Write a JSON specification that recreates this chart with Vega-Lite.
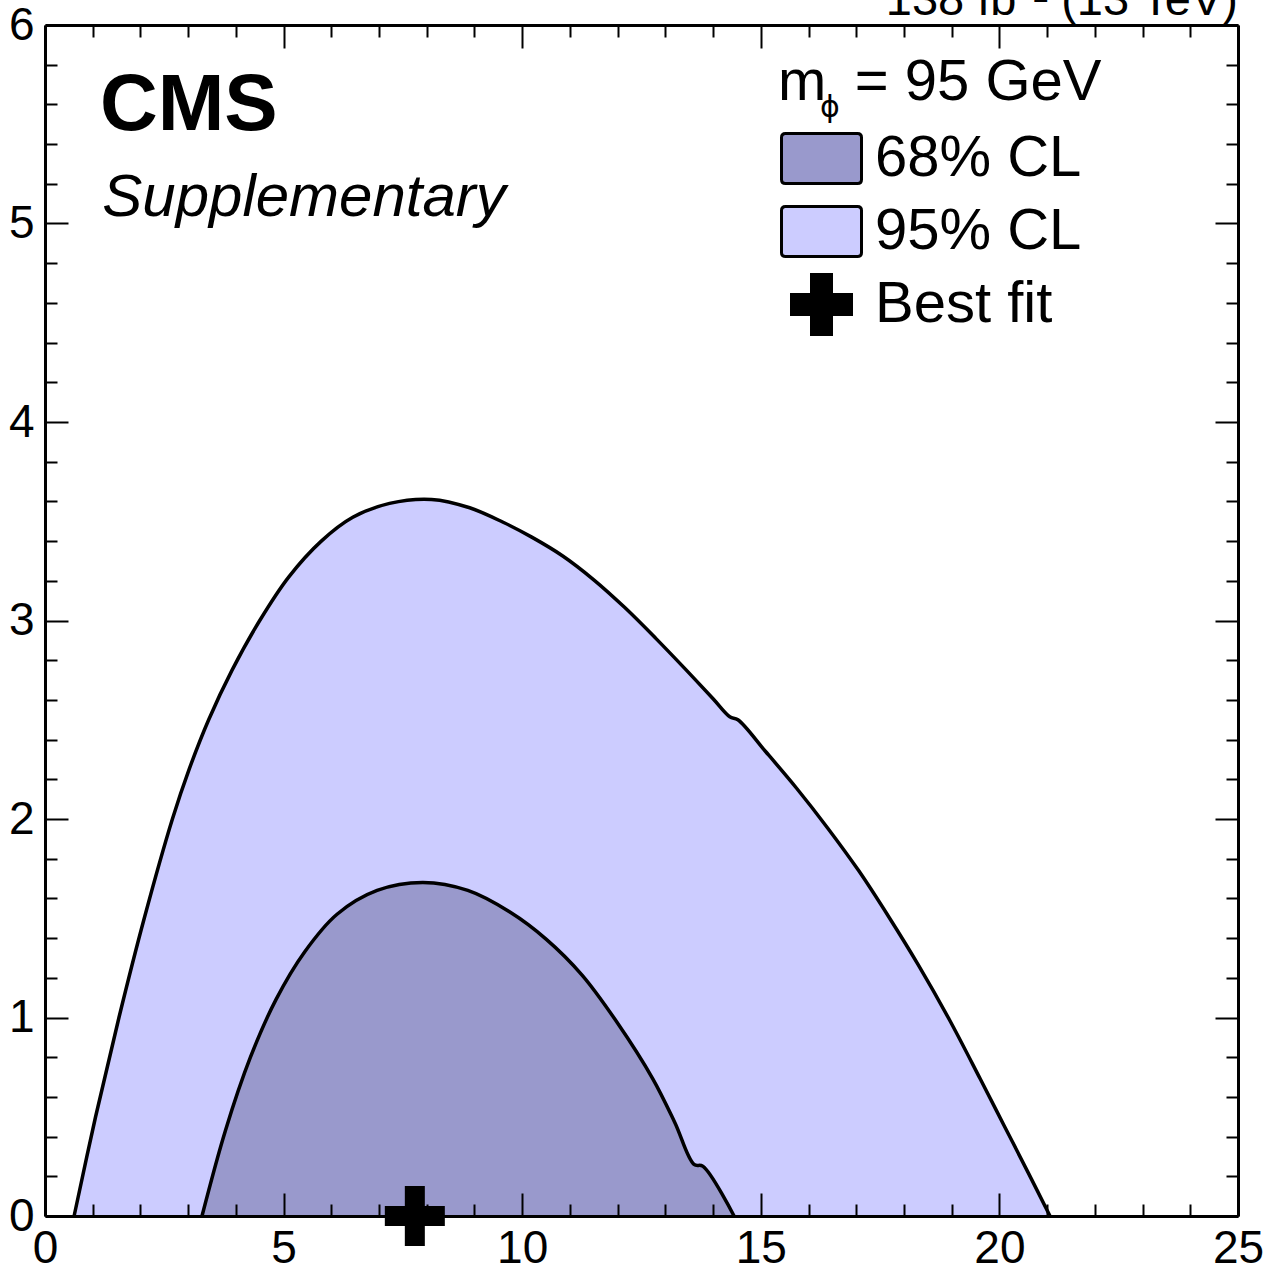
{
  "$schema": "https://vega.github.io/schema/vega-lite/v6.json",
  "autosize": {"type": "none"},
  "width": 1193,
  "height": 1191,
  "padding": {"left": 45, "top": 25, "right": 29, "bottom": 51},
  "background": "white",
  "config": {"view": {"stroke": null}, "font": "Liberation Sans"},
  "datasets": {
    "c95": [
      {"band": "95% CL", "x": 0.61, "y": 0},
      {"band": "95% CL", "x": 1.06, "y": 0.5},
      {"band": "95% CL", "x": 1.55, "y": 1.0},
      {"band": "95% CL", "x": 2.08, "y": 1.5},
      {"band": "95% CL", "x": 2.67, "y": 2.0},
      {"band": "95% CL", "x": 3.02, "y": 2.25},
      {"band": "95% CL", "x": 3.43, "y": 2.5},
      {"band": "95% CL", "x": 3.92, "y": 2.75},
      {"band": "95% CL", "x": 4.50, "y": 3.0},
      {"band": "95% CL", "x": 5.11, "y": 3.22},
      {"band": "95% CL", "x": 5.79, "y": 3.40},
      {"band": "95% CL", "x": 6.45, "y": 3.52},
      {"band": "95% CL", "x": 7.22, "y": 3.59},
      {"band": "95% CL", "x": 8.10, "y": 3.61},
      {"band": "95% CL", "x": 8.90, "y": 3.568},
      {"band": "95% CL", "x": 9.60, "y": 3.495},
      {"band": "95% CL", "x": 10.20, "y": 3.42},
      {"band": "95% CL", "x": 10.85, "y": 3.325},
      {"band": "95% CL", "x": 11.50, "y": 3.205},
      {"band": "95% CL", "x": 12.15, "y": 3.065},
      {"band": "95% CL", "x": 12.80, "y": 2.91},
      {"band": "95% CL", "x": 13.40, "y": 2.76},
      {"band": "95% CL", "x": 14.00, "y": 2.606},
      {"band": "95% CL", "x": 14.35, "y": 2.515},
      {"band": "95% CL", "x": 14.52, "y": 2.50},
      {"band": "95% CL", "x": 15.10, "y": 2.34},
      {"band": "95% CL", "x": 15.75, "y": 2.155},
      {"band": "95% CL", "x": 16.40, "y": 1.955},
      {"band": "95% CL", "x": 17.05, "y": 1.74},
      {"band": "95% CL", "x": 17.70, "y": 1.50},
      {"band": "95% CL", "x": 18.30, "y": 1.265},
      {"band": "95% CL", "x": 18.95, "y": 0.99},
      {"band": "95% CL", "x": 19.60, "y": 0.69},
      {"band": "95% CL", "x": 20.10, "y": 0.455},
      {"band": "95% CL", "x": 20.60, "y": 0.22},
      {"band": "95% CL", "x": 21.06, "y": 0}
    ],
    "c68": [
      {"band": "68% CL", "x": 3.29, "y": 0},
      {"band": "68% CL", "x": 3.78, "y": 0.43},
      {"band": "68% CL", "x": 4.305, "y": 0.80},
      {"band": "68% CL", "x": 4.84, "y": 1.09},
      {"band": "68% CL", "x": 5.44, "y": 1.33},
      {"band": "68% CL", "x": 6.12, "y": 1.52},
      {"band": "68% CL", "x": 6.96, "y": 1.64},
      {"band": "68% CL", "x": 7.92, "y": 1.68},
      {"band": "68% CL", "x": 8.86, "y": 1.64},
      {"band": "68% CL", "x": 9.75, "y": 1.53},
      {"band": "68% CL", "x": 10.50, "y": 1.395},
      {"band": "68% CL", "x": 11.25, "y": 1.215},
      {"band": "68% CL", "x": 11.99, "y": 0.975},
      {"band": "68% CL", "x": 12.74, "y": 0.69},
      {"band": "68% CL", "x": 13.20, "y": 0.47},
      {"band": "68% CL", "x": 13.60, "y": 0.26},
      {"band": "68% CL", "x": 13.79, "y": 0.25},
      {"band": "68% CL", "x": 14.44, "y": 0}
    ],
    "bf": [
      {"band": "Best fit", "x": 7.75, "y": 0}
    ]
  },
  "resolve": {"axis": {"x": "independent", "y": "independent"}},
  "layer": [
    {
      "data": {"name": "c95"},
      "mark": {"type": "area", "interpolate": "catmull-rom", "opacity": 1, "strokeWidth": 0},
      "encoding": {
        "x": {"field": "x", "type": "quantitative", "scale": {"domain": [0, 25], "nice": false, "zero": false},
          "axis": {"orient": "bottom", "values": [0, 5, 10, 15, 20, 25], "ticks": false, "tickSize": 0, "labels": true, "labelFont": "Liberation Sans", "labelFontSize": 46, "labelColor": "black", "labelPadding": 10, "labelFlush": false, "labelOverlap": false, "labelBound": false, "domain": true, "domainColor": "black", "domainWidth": 3, "title": null, "grid": false, "zindex": 1}},
        "y": {"field": "y", "type": "quantitative", "stack": null, "scale": {"domain": [0, 6], "nice": false, "zero": false},
          "axis": {"orient": "left", "values": [0, 1, 2, 3, 4, 5, 6], "ticks": false, "tickSize": 0, "labels": true, "labelFont": "Liberation Sans", "labelFontSize": 46, "labelColor": "black", "labelPadding": 11, "labelFlush": false, "labelOverlap": false, "labelBound": false, "domain": true, "domainColor": "black", "domainWidth": 3, "title": null, "grid": false, "zindex": 1}},
        "color": {"field": "band", "type": "nominal",
          "scale": {"domain": ["68% CL", "95% CL", "Best fit"], "range": ["#9999cc", "#ccccff", "#000000"]},
          "legend": {"title": null, "orient": "none", "legendX": 735, "legendY": 92, "padding": 0, "symbolSize": 6400, "symbolStrokeColor": "black", "symbolStrokeWidth": 3, "symbolOpacity": 1, "labelFont": "Liberation Sans", "labelFontSize": 58, "labelColor": "black", "labelOffset": 12, "rowPadding": -3, "labelLimit": 0,
            "encode": {"symbols": {"update": {"stroke": {"value": "black"}, "strokeWidth": {"value": 3}, "opacity": {"value": 1}}}}}
        }
      }
    },
    {
      "data": {"name": "c95"},
      "mark": {"type": "line", "interpolate": "catmull-rom", "color": "black", "strokeWidth": 3.5, "strokeJoin": "round"},
      "encoding": {
        "x": {"field": "x", "type": "quantitative",
          "axis": {"orient": "bottom", "values": [0, 5, 10, 15, 20, 25], "ticks": true, "tickSize": -23, "tickWidth": 2, "tickColor": "black", "labels": false, "domain": false, "title": null, "grid": false, "zindex": 1}},
        "y": {"field": "y", "type": "quantitative",
          "axis": {"orient": "left", "values": [0, 1, 2, 3, 4, 5, 6], "ticks": true, "tickSize": -23, "tickWidth": 2, "tickColor": "black", "labels": false, "domain": false, "title": null, "grid": false, "zindex": 1}}
      }
    },
    {
      "data": {"name": "c68"},
      "mark": {"type": "area", "interpolate": "catmull-rom", "opacity": 1, "strokeWidth": 0},
      "encoding": {
        "x": {"field": "x", "type": "quantitative",
          "axis": {"orient": "bottom", "values": [1, 2, 3, 4, 6, 7, 8, 9, 11, 12, 13, 14, 16, 17, 18, 19, 21, 22, 23, 24], "ticks": true, "tickSize": -12, "tickWidth": 2, "tickColor": "black", "labels": false, "domain": false, "title": null, "grid": false, "zindex": 1}},
        "y": {"field": "y", "type": "quantitative", "stack": null,
          "axis": {"orient": "left", "values": [0.2, 0.4, 0.6, 0.8, 1.2, 1.4, 1.6, 1.8, 2.2, 2.4, 2.6, 2.8, 3.2, 3.4, 3.6, 3.8, 4.2, 4.4, 4.6, 4.8, 5.2, 5.4, 5.6, 5.8], "ticks": true, "tickSize": -12, "tickWidth": 2, "tickColor": "black", "labels": false, "domain": false, "title": null, "grid": false, "zindex": 1}},
        "color": {"field": "band", "type": "nominal",
          "legend": {"title": null, "orient": "none", "legendX": 735, "legendY": 92, "padding": 0, "symbolSize": 6400, "symbolStrokeColor": "black", "symbolStrokeWidth": 3, "symbolOpacity": 1, "labelFont": "Liberation Sans", "labelFontSize": 58, "labelColor": "black", "labelOffset": 12, "rowPadding": -3, "labelLimit": 0,
            "encode": {"symbols": {"update": {"stroke": {"value": "black"}, "strokeWidth": {"value": 3}, "opacity": {"value": 1}}}}}
        }
      }
    },
    {
      "data": {"name": "c68"},
      "mark": {"type": "line", "interpolate": "catmull-rom", "color": "black", "strokeWidth": 3.5, "strokeJoin": "round"},
      "encoding": {
        "x": {"field": "x", "type": "quantitative",
          "axis": {"orient": "top", "values": [0, 5, 10, 15, 20, 25], "ticks": true, "tickSize": -23, "tickWidth": 2, "tickColor": "black", "labels": false, "domain": true, "domainColor": "black", "domainWidth": 3, "title": null, "grid": false, "zindex": 1}},
        "y": {"field": "y", "type": "quantitative",
          "axis": {"orient": "right", "values": [0, 1, 2, 3, 4, 5, 6], "ticks": true, "tickSize": -23, "tickWidth": 2, "tickColor": "black", "labels": false, "domain": true, "domainColor": "black", "domainWidth": 3, "title": null, "grid": false, "zindex": 1}}
      }
    },
    {
      "data": {"name": "bf"},
      "mark": {"type": "point", "filled": true, "opacity": 1, "strokeWidth": 0},
      "encoding": {
        "x": {"field": "x", "type": "quantitative",
          "axis": {"orient": "top", "values": [1, 2, 3, 4, 6, 7, 8, 9, 11, 12, 13, 14, 16, 17, 18, 19, 21, 22, 23, 24], "ticks": true, "tickSize": -12, "tickWidth": 2, "tickColor": "black", "labels": false, "domain": false, "title": null, "grid": false, "zindex": 1}},
        "y": {"field": "y", "type": "quantitative",
          "axis": {"orient": "right", "values": [0.2, 0.4, 0.6, 0.8, 1.2, 1.4, 1.6, 1.8, 2.2, 2.4, 2.6, 2.8, 3.2, 3.4, 3.6, 3.8, 4.2, 4.4, 4.6, 4.8, 5.2, 5.4, 5.6, 5.8], "ticks": true, "tickSize": -12, "tickWidth": 2, "tickColor": "black", "labels": false, "domain": false, "title": null, "grid": false, "zindex": 1}},
        "color": {"field": "band", "type": "nominal",
          "legend": {"title": null, "orient": "none", "legendX": 735, "legendY": 92, "padding": 0, "symbolSize": 6400, "symbolStrokeColor": "black", "symbolStrokeWidth": 3, "symbolOpacity": 1, "labelFont": "Liberation Sans", "labelFontSize": 58, "labelColor": "black", "labelOffset": 12, "rowPadding": -3, "labelLimit": 0,
            "encode": {"symbols": {"update": {"stroke": {"value": "black"}, "strokeWidth": {"value": 3}, "opacity": {"value": 1}}}}}
        },
        "shape": {"field": "band", "type": "nominal",
          "scale": {"domain": ["68% CL", "95% CL", "Best fit"], "range": ["M-0.9,-0.625H0.9Q1,-0.625 1,-0.525V0.525Q1,0.625 0.9,0.625H-0.9Q-1,0.625 -1,0.525V-0.525Q-1,-0.625 -0.9,-0.625Z", "M-0.9,-0.625H0.9Q1,-0.625 1,-0.525V0.525Q1,0.625 0.9,0.625H-0.9Q-1,0.625 -1,0.525V-0.525Q-1,-0.625 -0.9,-0.625Z", "M-0.25,-0.75H0.25V-0.25H0.75V0.25H0.25V0.75H-0.25V0.25H-0.75V-0.25H-0.25Z"]},
          "legend": {"title": null, "orient": "none", "legendX": 735, "legendY": 92, "padding": 0, "symbolSize": 6400, "symbolStrokeColor": "black", "symbolStrokeWidth": 3, "symbolOpacity": 1, "labelFont": "Liberation Sans", "labelFontSize": 58, "labelColor": "black", "labelOffset": 12, "rowPadding": -3, "labelLimit": 0,
            "encode": {"symbols": {"update": {"stroke": {"value": "black"}, "strokeWidth": {"value": 3}, "opacity": {"value": 1}}}}}
        },
        "size": {"value": 6400}
      }
    },
    {
      "data": {"values": [{}]},
      "mark": {"type": "text", "font": "Liberation Sans", "fontWeight": "bold", "fontSize": 80, "align": "left", "baseline": "alphabetic", "color": "black"},
      "encoding": {
        "x": {"datum": 1.15, "type": "quantitative", "axis": null},
        "y": {"datum": 5.47, "type": "quantitative", "axis": null},
        "text": {"value": "CMS"}
      }
    },
    {
      "data": {"values": [{}]},
      "mark": {"type": "text", "font": "Liberation Sans", "fontStyle": "italic", "fontSize": 60, "align": "left", "baseline": "alphabetic", "color": "black"},
      "encoding": {
        "x": {"datum": 1.2, "type": "quantitative", "axis": null},
        "y": {"datum": 5.04, "type": "quantitative", "axis": null},
        "text": {"value": "Supplementary"}
      }
    },
    {
      "data": {"values": [{}]},
      "mark": {"type": "text", "font": "Liberation Sans", "fontSize": 47, "align": "right", "baseline": "alphabetic", "color": "black"},
      "encoding": {
        "x": {"datum": 25, "type": "quantitative", "axis": null},
        "y": {"datum": 6.05, "type": "quantitative", "axis": null},
        "text": {"value": "138 fb⁻¹ (13 TeV)"}
      }
    },
    {
      "data": {"values": [{}]},
      "mark": {"type": "text", "font": "Liberation Sans", "fontSize": 58, "align": "left", "baseline": "alphabetic", "color": "black"},
      "encoding": {
        "x": {"datum": 15.36, "type": "quantitative", "axis": null},
        "y": {"datum": 5.62, "type": "quantitative", "axis": null},
        "text": {"value": "m"}
      }
    },
    {
      "data": {"values": [{}]},
      "mark": {"type": "text", "font": "DejaVu Sans", "fontSize": 30, "align": "center", "baseline": "alphabetic", "color": "black"},
      "encoding": {
        "x": {"datum": 16.45, "type": "quantitative", "axis": null},
        "y": {"datum": 5.535, "type": "quantitative", "axis": null},
        "text": {"value": "ϕ"}
      }
    },
    {
      "data": {"values": [{}]},
      "mark": {"type": "text", "font": "Liberation Sans", "fontSize": 58, "align": "left", "baseline": "alphabetic", "color": "black"},
      "encoding": {
        "x": {"datum": 16.97, "type": "quantitative", "axis": null},
        "y": {"datum": 5.62, "type": "quantitative", "axis": null},
        "text": {"value": "= 95 GeV"}
      }
    }
  ]
}
